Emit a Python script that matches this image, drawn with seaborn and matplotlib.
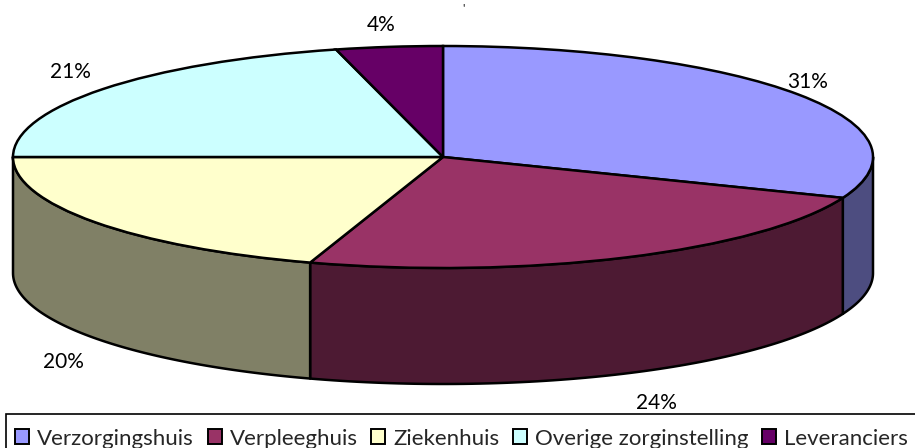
# Pie chart with a 3D look, made from a flat pie squashed into an ellipse
import matplotlib
matplotlib.use("Agg")
import matplotlib.pyplot as plt
import numpy as np
import seaborn as sns
from matplotlib.patches import Rectangle

# Data
categories = ["Verzorgingshuis", "Verpleeghuis", "Ziekenhuis", "Overige zorginstelling", "Leveranciers"]
shares = [31, 24, 20, 21, 4]
share_labels = ["31%", "24%", "20%", "21%", "4%"]
top_colors = ["#9999FF", "#993366", "#FFFFCC", "#CCFFFF", "#660066"]
side_colors = ["#4D4D80", "#4D1A33", "#808066", "#668080", "#330033"]

W, H = 915, 448
sns.set_theme(style="white")
plt.rcParams["font.family"] = ["Lato", "DejaVu Sans"]

fig = plt.figure(figsize=(W / 100, H / 100), dpi=100)
# Axes box is exactly the top ellipse
ax = fig.add_axes([13 / W, (H - 268) / H, 860 / W, 222 / H])

# Height of the wall in ellipse radii
depth = 116 / 111

# Walls: only the part of each slice at the front is visible
edges = np.cumsum([0] + shares) / sum(shares) * 2 * np.pi
for i in range(len(shares)):
    start = max(edges[i], np.pi / 2)
    stop = min(edges[i + 1], 3 * np.pi / 2)
    if stop <= start:
        continue
    t = np.linspace(start, stop, 80)
    x = np.sin(t)
    y = np.cos(t)
    ax.fill(np.r_[x, x[::-1]], np.r_[y, y[::-1] - depth], facecolor=side_colors[i],
            edgecolor="black", linewidth=1.8, clip_on=False, joinstyle="round")

# Top face
wedges, _ = ax.pie(shares, colors=top_colors, startangle=90, counterclock=False, radius=1,
                   wedgeprops={"edgecolor": "black", "linewidth": 1.8})
for w in wedges:
    w.set_clip_on(False)
ax.set_aspect("auto")
ax.set_xlim(-1, 1)
ax.set_ylim(-1, 1)
ax.axis("off")

# Percentage labels
label_pos = [(808, 82), (656, 403), (63, 362), (70, 72), (381, 25)]
for txt, (px, py) in zip(share_labels, label_pos):
    fig.text(px / W, 1 - py / H, txt, ha="center", va="center", fontsize=15, color="black")
fig.text(463 / W, 1 - 8 / H, "'", ha="center", va="center", fontsize=8, color="black")

# Legend box runs off the right and bottom of the picture
fig.add_artist(Rectangle((6 / W, -0.02), 1.0, 0.02 + (H - 414) / H, transform=fig.transFigure,
                         facecolor="white", edgecolor="black", linewidth=1.2))
leg = fig.legend(wedges, categories, ncol=5, loc="upper left",
                 bbox_to_anchor=(15 / W, 1 - 428.5 / H), borderaxespad=0, borderpad=0,
                 fontsize=16, frameon=False,
                 handlelength=0.63, handleheight=0.63, handletextpad=0.36, columnspacing=0.62)
for h in leg.legend_handles:
    h.set_linewidth(1.4)

fig.savefig("out.png", dpi=100)
